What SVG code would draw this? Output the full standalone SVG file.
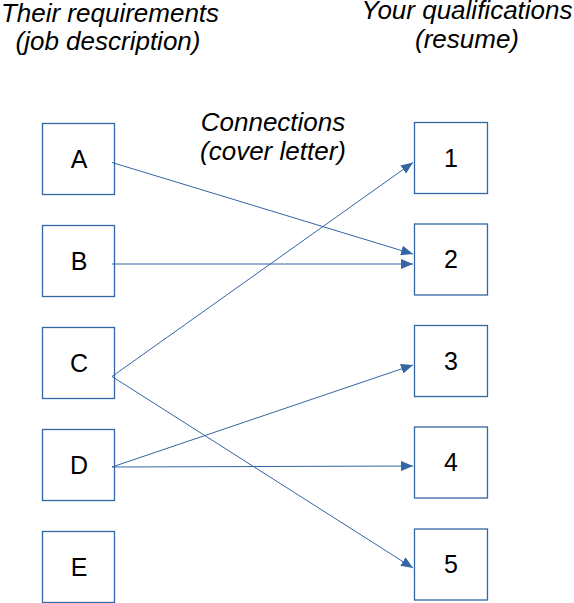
<svg xmlns="http://www.w3.org/2000/svg" width="574" height="603" viewBox="0 0 574 603">
<defs>
<marker id="arr" viewBox="0 0 12 10" refX="12" refY="5" markerWidth="12" markerHeight="10" markerUnits="userSpaceOnUse" orient="auto">
<path d="M0,0 L12,5 L0,10 Z" fill="#3465a4"/>
</marker>
</defs>
<style>
.box{fill:#fff;stroke:#3465a4;stroke-width:1.3}
.lbl{font-family:"Liberation Sans",Arial,sans-serif;font-size:25px;fill:#000;text-anchor:middle}
.hdr{font-family:"Liberation Sans",Arial,sans-serif;font-size:26px;font-style:italic;fill:#000;text-anchor:middle}
.con{stroke:#3465a4;stroke-width:1;fill:none;marker-end:url(#arr)}
</style>
<rect width="574" height="603" fill="#fff"/>
<g id="headers">
<text class="hdr" x="110" y="21.5">Their requirements</text>
<text class="hdr" x="108" y="50">(job description)</text>
<text class="hdr" x="467" y="19">Your qualifications</text>
<text class="hdr" x="467" y="48">(resume)</text>
<text class="hdr" x="273" y="131">Connections</text>
<text class="hdr" x="273" y="160">(cover letter)</text>
</g>
<g id="nodeA"><rect class="box" x="42.5" y="123.5" width="72" height="71"/><text class="lbl" x="79" y="167.5">A</text></g>
<g id="nodeB"><rect class="box" x="42.5" y="225.5" width="72" height="71"/><text class="lbl" x="79" y="269.5">B</text></g>
<g id="nodeC"><rect class="box" x="42.5" y="327.5" width="72" height="71"/><text class="lbl" x="79" y="371.5">C</text></g>
<g id="nodeD"><rect class="box" x="42.5" y="429.5" width="72" height="71"/><text class="lbl" x="79" y="473.5">D</text></g>
<g id="nodeE"><rect class="box" x="42.5" y="531.5" width="72" height="71"/><text class="lbl" x="79" y="575.5">E</text></g>
<g id="node1"><rect class="box" x="414.5" y="122.5" width="73" height="71"/><text class="lbl" x="451" y="166.5">1</text></g>
<g id="node2"><rect class="box" x="414.5" y="224" width="73" height="71"/><text class="lbl" x="451" y="268">2</text></g>
<g id="node3"><rect class="box" x="414.5" y="325.5" width="73" height="71"/><text class="lbl" x="451" y="369.5">3</text></g>
<g id="node4"><rect class="box" x="414.5" y="427" width="73" height="71"/><text class="lbl" x="451" y="471">4</text></g>
<g id="node5"><rect class="box" x="414.5" y="529" width="73" height="71"/><text class="lbl" x="451" y="573">5</text></g>
<g id="connectors">
<line class="con" x1="112" y1="162.5" x2="413" y2="254"/>
<line class="con" x1="112" y1="264" x2="413" y2="264"/>
<line class="con" x1="112" y1="376.5" x2="413" y2="162.5"/>
<line class="con" x1="112" y1="376.5" x2="413" y2="568"/>
<line class="con" x1="112" y1="467" x2="413" y2="365"/>
<line class="con" x1="112" y1="467" x2="413" y2="466"/>
</g>
</svg>
